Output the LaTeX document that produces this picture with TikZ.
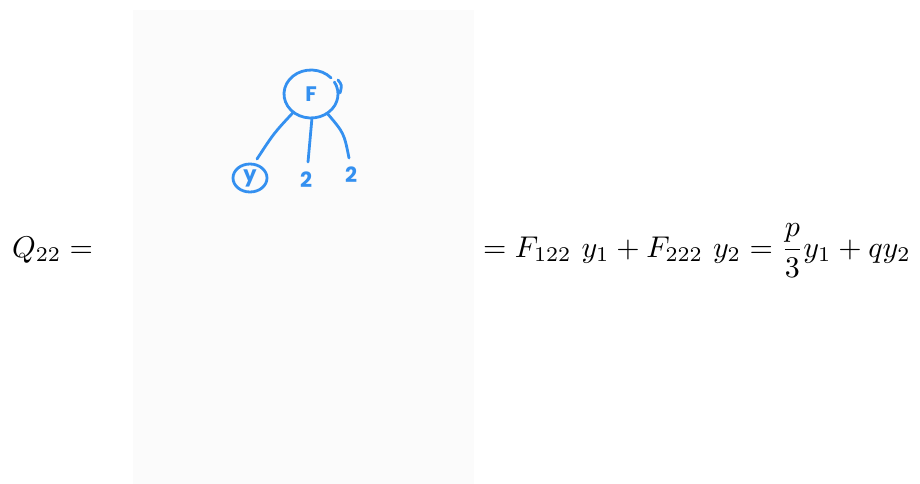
\documentclass[tikz,border=0pt]{standalone}
\usepackage{graphicx}
\usepackage{fontspec}
\newfontfamily\hand{Poppins}
\definecolor{inkblue}{RGB}{52,144,240}
\definecolor{panel}{RGB}{251,251,251}
\begin{document}
\begin{tikzpicture}[x=1pt,y=-1pt,
  ink/.style={draw=inkblue,line width=2.8pt,line cap=round,line join=round},
  handtxt/.style={text=inkblue,font=\hand\bfseries\fontsize{21}{21}\selectfont,inner sep=0pt},
  eq/.style={anchor=base west,inner sep=0pt}]
\useasboundingbox (0,0) rectangle (920,484);
\fill[panel] (133,10) rectangle (474,484);
% equation text
\node[eq] (lhs) at (12,257) {\scalebox{3.0}{$Q_{22} =$}};
\node[eq] (rhs) at (483,257) {\scalebox{3.0}{$\displaystyle = F_{122}\ y_1 + F_{222}\ y_2 = \frac{p}{3}y_1 + qy_2$}};
% handwritten tree
\node[handtxt,circle,minimum size=50pt] (F) at (311,94) {F};
\node[handtxt] (Y) at (250,178) {y};
\node[handtxt] (T1) at (306,180) {2};
\node[handtxt] (T2) at (351,175) {2};
\draw[ink] (F.center) ++(-42:27 and 24) arc[start angle=-42, end angle=-390, x radius=27, y radius=24];
\draw[ink] (338,80) .. controls (342,85) .. (340,93);
\draw[ink] (Y.center) ellipse[x radius=17, y radius=14];
\coordinate (e1) at (257,159);
\coordinate (e2) at (308,162);
\coordinate (e3) at (349,158);
\draw[ink] (F.-134) .. controls (274,133) .. (e1);
\draw[ink] (F.-88) .. controls (310,140) .. (e2);
\draw[ink] (F.-50) .. controls (344,133) .. (e3);
\end{tikzpicture}
\end{document}
